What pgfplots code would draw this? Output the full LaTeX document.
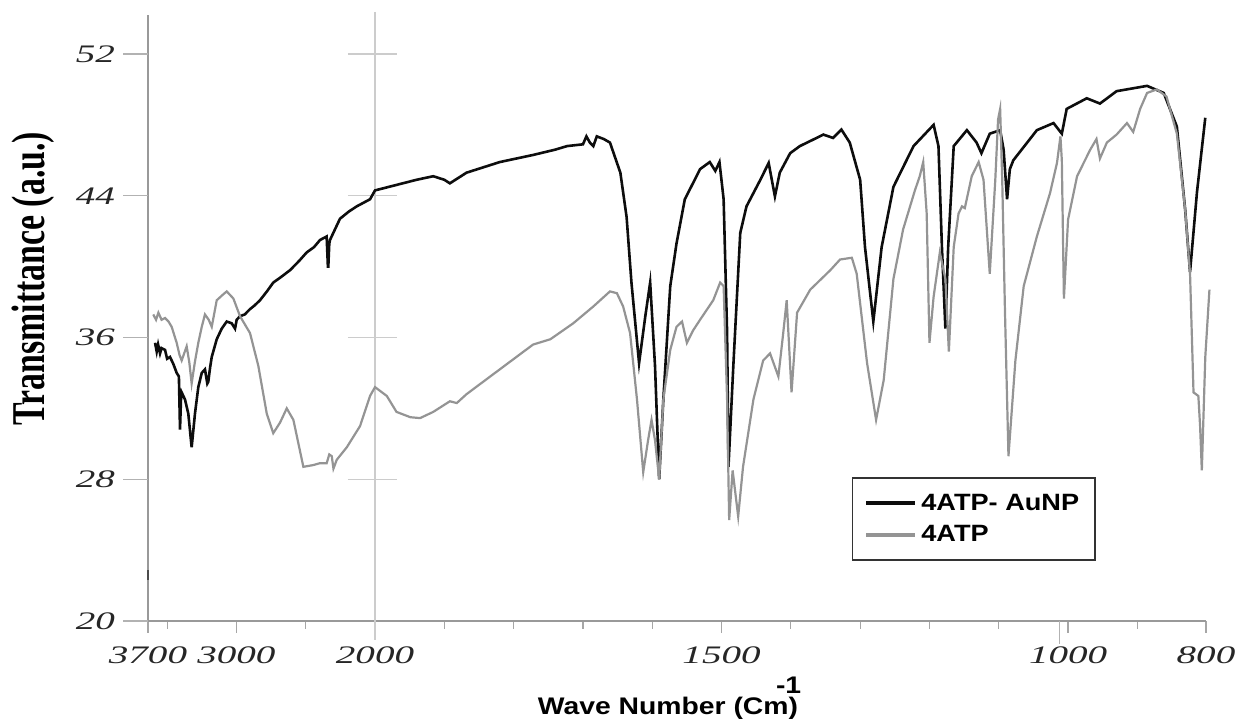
\documentclass[border=0pt]{standalone}
\usepackage{pgfplots}
\pgfplotsset{compat=1.18}
\usepackage{graphicx}
\usepackage{fontspec}
\setmainfont{Liberation Serif}
\newfontfamily\lsans{Liberation Sans}

% wide italic tick numbers
\newcommand{\tl}[1]{\scalebox{1.55}[1]{\itshape #1}}

\begin{document}
\begin{tikzpicture}
\path[use as bounding box] (-74pt,-50pt) rectangle (545.5pt,310.5pt);
\begin{axis}[
    at={(0pt,0pt)}, anchor=south west,
    scale only axis, width=529pt, height=303pt,
    x dir=reverse,
    % 2000 cm-1 and above are compressed 5x, as on the instrument chart
    x coord trafo/.code={\pgfmathparse{#1>2000 ? 2000+(#1-2000)/5 : #1}},
    xmin=801, xmax=3638, ymin=20, ymax=54.2,
    axis x line*=bottom, axis y line*=left,
    axis line style={black!40, line width=0.6pt, -},
    tick align=outside,
    major tick length=6pt, minor tick length=4pt,
    xtick={3638,3000,2000,1500,1000,801},
    xticklabels={\tl{3700},\tl{3000},\tl{2000},\tl{1500},\tl{1000},\tl{800}},
    minor xtick={3500,2500,1900,1800,1700,1600,1400,1300,1200,1100,900},
    ytick={20,28,36,44,52},
    yticklabels={\tl{20},\tl{28},\tl{36},\tl{44},\tl{52}},
    tick style={black!35, line width=0.6pt},
    ytick style={draw=none},
    tick label style={font=\fontsize{12.6}{14}\selectfont, text=black!85},
    xticklabel style={yshift=-3.5pt},
    yticklabel style={xshift=-7pt},
    ylabel={\scalebox{0.72}[1]{\fontsize{23.5}{28}\selectfont\bfseries Transmittance (a.u.)}},
    ylabel style={at={(axis description cs:-0.1087,0.565)}, anchor=center},
    xlabel={\scalebox{1.18}[1]{\lsans\bfseries\fontsize{12}{14}\selectfont Wave Number (Cm\makebox[0pt][c]{\raisebox{0.9em}{-1}})}},
    xlabel style={at={(axis description cs:0.4915,-0.155)}, anchor=base},
    clip=false,
    legend style={at={(axis description cs:0.665,0.2376)}, anchor=north west,
        draw=black!80, line width=0.8pt, fill=white,
        font=\lsans\bfseries\fontsize{11.8}{14}\selectfont,
        inner xsep=6pt, inner ysep=6pt, row sep=2pt},
    legend cell align=left,
    legend image code/.code={\draw[#1, line width=2pt] (0pt,0pt) -- (24.5pt,0pt);},
]
% y tick dashes, grid line at 2000 and its tick crosses
\draw[black!30, line width=0.6pt] (axis description cs:-0.0236,0) -- (axis description cs:0,0);
\draw[black!30, line width=0.6pt] (axis description cs:-0.0236,0.2339) -- (axis description cs:0,0.2339);
\draw[black!30, line width=0.6pt] (axis description cs:-0.0236,0.4678) -- (axis description cs:0,0.4678);
\draw[black!30, line width=0.6pt] (axis description cs:-0.0236,0.7018) -- (axis description cs:0,0.7018);
\draw[black!30, line width=0.6pt] (axis description cs:-0.0236,0.9357) -- (axis description cs:0,0.9357);
\draw[black!20, line width=0.6pt] (axis description cs:0.2146,1.005) -- (axis description cs:0.2146,-0.031);
\draw[black!20, line width=0.6pt] (axis description cs:0.189,0.9357) -- (axis description cs:0.2353,0.9357);
\draw[black!20, line width=0.6pt] (axis description cs:0.189,0.7018) -- (axis description cs:0.2353,0.7018);
\draw[black!20, line width=0.6pt] (axis description cs:0.189,0.4678) -- (axis description cs:0.2353,0.4678);
\draw[black!20, line width=0.6pt] (axis description cs:0.189,0.2339) -- (axis description cs:0.2353,0.2339);
\draw[black!30, line width=0.6pt] (axis description cs:0.8616,0) -- (axis description cs:0.8616,-0.038);
\draw[black!70, line width=1pt] (axis description cs:0,0.068) -- (axis description cs:0,0.084);

\addplot[black!95, line width=1.3pt] coordinates {
(3587,35.7)(3575,35.2)(3565,35.6)(3551,35.1)(3540,35.4)(3515,35.3)(3500,34.8)(3479,34.9)
(3455,34.5)(3431,34.0)(3415,33.8)(3407,30.8)(3400,32.5)(3395,32.9)(3371,32.5)(3347,31.7)
(3323,29.8)(3299,31.7)(3275,33.2)(3250,34.0)(3227,34.2)(3210,33.4)(3203,33.5)(3190,34.3)
(3178,34.9)(3142,35.9)(3106,36.5)(3070,36.9)(3034,36.8)(3010,36.5)(2998,37.0)(2974,37.2)
(2940,37.3)(2902,37.6)(2870,37.8)(2830,38.1)(2780,38.6)(2734,39.1)(2680,39.4)(2613,39.8)
(2550,40.3)(2493,40.8)(2440,41.1)(2397,41.5)(2349,41.7)(2340,40.0)(2337,40.0)(2330,41.3)
(2325,41.5)(2253,42.7)(2190,43.1)(2132,43.4)(2036,43.8)(2000,44.3)(1970,44.6)(1940,44.9)
(1916,45.1)(1900,44.9)(1892,44.7)(1880,45.0)(1868,45.3)(1820,45.9)(1772,46.3)(1740,46.6)
(1723,46.8)(1700,46.9)(1695,47.35)(1690,47.0)(1685,46.8)(1680,47.35)(1670,47.2)(1661,47.0)
(1646,45.3)(1637,42.8)(1630,39.1)(1619,34.55)(1610,37.2)(1603,39.1)(1596,34.4)(1590,28.0)
(1584,32.5)(1574,38.9)(1565,41.3)(1553,43.8)(1540,44.8)(1531,45.5)(1517,45.9)(1509,45.4)
(1503,45.9)(1497,43.8)(1492,36.3)(1490,28.7)(1483,34.4)(1473,41.9)(1464,43.4)(1444,44.9)
(1432,45.85)(1423,43.96)(1416,45.3)(1401,46.4)(1387,46.8)(1353,47.45)(1339,47.26)(1327,47.73)
(1315,47.0)(1300,44.9)(1293,41.1)(1281,36.9)(1269,41.1)(1252,44.5)(1223,46.8)(1194,48.0)
(1187,46.8)(1182,41.1)(1177,36.5)(1173,41.1)(1165,46.8)(1146,47.7)(1132,47.0)(1125,46.4)
(1113,47.5)(1098,47.7)(1093,46.6)(1088,43.8)(1084,45.5)(1079,46.0)(1045,47.7)(1021,48.1)
(1009,47.5)(1002,48.9)(973,49.5)(954,49.2)(930,49.9)(886,50.2)(862,49.8)(843,47.9)
(831,43.2)(824,39.7)(814,44.2)(802,48.4)
};
\addlegendentry{\scalebox{1.15}[1]{4ATP- AuNP}\hspace{58pt}}

\addplot[black!42, line width=1.1pt] coordinates {
(3600,37.3)(3580,37.0)(3563,37.4)(3540,37.0)(3515,37.1)(3490,36.9)(3467,36.6)(3431,35.7)
(3410,35.0)(3395,34.7)(3359,35.5)(3340,34.6)(3323,33.4)(3300,34.6)(3275,35.7)(3250,36.6)
(3227,37.3)(3200,37.0)(3178,36.6)(3142,38.1)(3100,38.4)(3070,38.6)(3022,38.2)(2974,37.2)
(2902,36.25)(2842,34.4)(2781,31.7)(2734,30.6)(2685,31.2)(2637,32.0)(2589,31.35)(2517,28.7)
(2445,28.8)(2400,28.9)(2349,28.9)(2330,29.4)(2312,29.3)(2300,28.6)(2276,29.1)(2204,29.8)
(2108,31.0)(2036,32.7)(2000,33.2)(1983,32.7)(1969,31.8)(1949,31.5)(1935,31.45)(1916,31.8)
(1892,32.4)(1882,32.3)(1868,32.8)(1820,34.2)(1772,35.6)(1747,35.9)(1714,36.8)(1685,37.75)
(1661,38.6)(1651,38.5)(1642,37.75)(1632,36.25)(1622,32.5)(1613,28.4)(1606,30.2)(1601,31.35)
(1596,30.2)(1590,28.0)(1584,32.5)(1574,35.3)(1565,36.6)(1557,36.9)(1550,35.7)(1541,36.4)
(1531,37.0)(1512,38.1)(1502,39.1)(1497,38.9)(1492,32.5)(1489,25.7)(1484,28.5)(1476,25.9)
(1469,28.7)(1454,32.5)(1440,34.7)(1430,35.1)(1418,33.8)(1411,36.25)(1406,38.1)(1399,32.9)
(1391,37.4)(1372,38.7)(1343,39.8)(1329,40.4)(1312,40.5)(1305,39.6)(1290,34.55)(1277,31.35)
(1266,33.6)(1252,39.3)(1238,42.1)(1221,44.3)(1214,45.1)(1209,45.9)(1204,43.0)(1200,35.7)
(1194,38.3)(1185,40.8)(1177,39.3)(1172,35.2)(1165,41.1)(1158,43.0)(1153,43.4)(1149,43.3)
(1139,45.1)(1129,45.9)(1122,44.9)(1113,39.6)(1105,44.9)(1101,48.3)(1098,48.9)(1095,44.9)
(1091,37.4)(1086,29.3)(1076,34.7)(1064,38.9)(1045,41.7)(1026,44.15)(1016,45.85)(1011,47.35)
(1009,46.0)(1006,38.2)(1000,42.65)(987,45.1)(968,46.6)(959,47.2)(954,46.1)(944,47.0)
(930,47.45)(915,48.1)(906,47.6)(896,48.9)(886,49.8)(872,50.0)(858,49.6)(843,47.5)
(831,43.2)(824,39.6)(819,32.9)(812,32.7)(809.5,31.0)(807,28.5)(802,34.9)(796,38.7)
};
\addlegendentry{\scalebox{1.15}[1]{4ATP}}
\end{axis}
\end{tikzpicture}
\end{document}
